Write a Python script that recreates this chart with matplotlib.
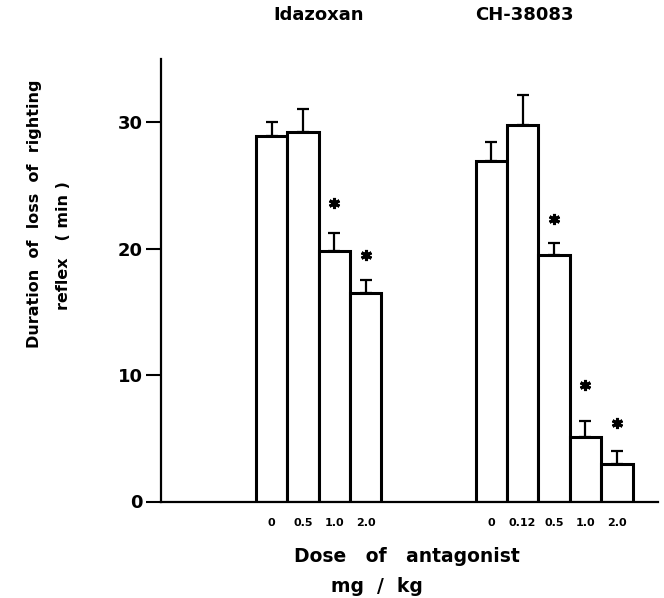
import numpy as np
import matplotlib
matplotlib.use('Agg')
import matplotlib.pyplot as plt

plt.rcParams['font.family'] = ['DejaVu Sans']
plt.rcParams['font.weight'] = 'bold'

# data
ida_doses = ['0', '0.5', '1.0', '2.0']
ida_means = [28.9, 29.2, 19.8, 16.5]
ida_sem = [1.1, 1.8, 1.4, 1.0]
ida_star = [None, None, 23.6, 19.5]

ch_doses = ['0', '0.12', '0.5', '1.0', '2.0']
ch_means = [26.9, 29.8, 19.5, 5.1, 3.0]
ch_sem = [1.5, 2.3, 0.9, 1.3, 1.0]
ch_star = [None, None, 22.3, 9.2, 6.2]

ida_x = np.arange(len(ida_doses))
ch_x = np.arange(len(ch_doses)) + 7

fig = plt.figure(figsize=(6.64, 5.98), dpi=100)
ax = fig.add_axes([161 / 664, 1 - 501.5 / 598, (658 - 161) / 664, (501.5 - 58.75) / 598])

for xs, means, sem, stars in [(ida_x, ida_means, ida_sem, ida_star),
                              (ch_x, ch_means, ch_sem, ch_star)]:
    ax.bar(xs, means, width=1.0, color='white', edgecolor='black', linewidth=2.2, zorder=2)
    ax.errorbar(xs, means, yerr=[np.zeros(len(sem)), sem], fmt='none', ecolor='black',
                elinewidth=1.6, capsize=4.5, capthick=1.6, zorder=3)
    # significance marks
    for x, s in zip(xs, stars):
        if s is not None:
            ax.plot(x, s, marker=(6, 2, 0), color='black', markersize=8, mew=2.2, zorder=3)

ax.set_xlim(-3.52, 12.31)
ax.set_ylim(0, 35)
ax.set_yticks([0, 10, 20, 30])
ax.set_yticklabels(['0', '10', '20', '30'], fontsize=13, fontweight='bold')
ax.tick_params(axis='y', length=11, width=1.5, pad=2)

ax.set_xticks(list(ida_x) + list(ch_x))
ax.set_xticklabels(ida_doses + ch_doses, fontsize=8, fontweight='bold')
ax.tick_params(axis='x', length=0, pad=12)

for side in ['top', 'right']:
    ax.spines[side].set_visible(False)
ax.spines['left'].set_linewidth(1.6)
ax.spines['bottom'].set_linewidth(1.6)

fig.text(319 / 664, 1 - 15 / 598, 'Idazoxan', ha='center', va='center', fontsize=13, fontweight='bold')
fig.text(524 / 664, 1 - 15 / 598, 'CH-38083', ha='center', va='center', fontsize=13, fontweight='bold')

fig.text(407 / 664, 1 - 557 / 598, 'Dose   of   antagonist', ha='center', va='center', fontsize=13.5, fontweight='bold')
fig.text(377 / 664, 1 - 587 / 598, 'mg  /  kg', ha='center', va='center', fontsize=13.5, fontweight='bold')

fig.text(35 / 664, 1 - 214 / 598, 'Duration  of  loss  of  righting', rotation=90,
         ha='center', va='center', fontsize=11.5, fontweight='bold')
fig.text(63 / 664, 1 - 246 / 598, 'reflex   ( min )', rotation=90,
         ha='center', va='center', fontsize=11.5, fontweight='bold')

fig.savefig('out.png', dpi=100)
